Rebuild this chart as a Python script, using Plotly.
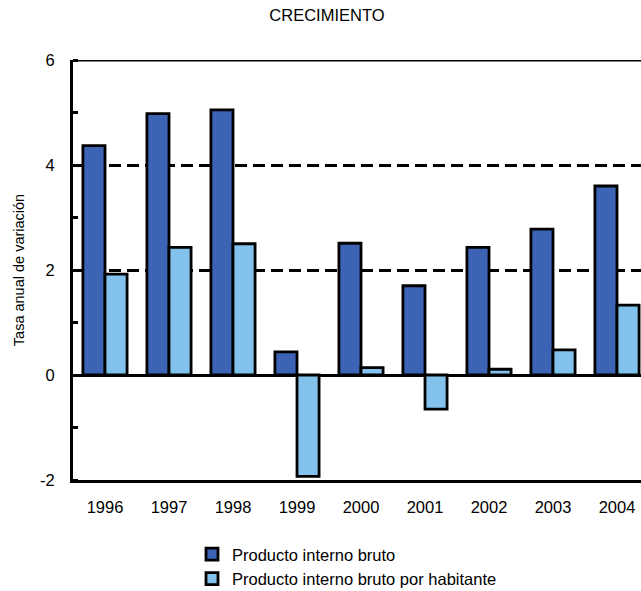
import plotly.graph_objects as go

# Annual growth rates (%)
years = ["1996", "1997", "1998", "1999", "2000", "2001", "2002", "2003", "2004"]
pib = [4.37, 4.98, 5.05, 0.44, 2.51, 1.70, 2.43, 2.78, 3.60]
pib_hab = [1.92, 2.43, 2.50, -1.93, 0.14, -0.65, 0.11, 0.48, 1.33]

y_ticks = [-2, 0, 2, 4, 6]

DARK = "#3d63b4"
LIGHT = "#82c2ec"
FONT = "Liberation Sans, Arial, sans-serif"
W, H = 641, 591
L, T, B = 73, 60, 111
PW, PH = W - L, H - T - B

fig = go.Figure()
fig.add_trace(go.Bar(
    x=years, y=pib, name="Producto interno bruto",
    marker=dict(color=DARK, line=dict(color="black", width=2.8)),
))
fig.add_trace(go.Bar(
    x=years, y=pib_hab, name="Producto interno bruto por habitante",
    marker=dict(color=LIGHT, line=dict(color="black", width=2.8)),
))

# top frame line of the plot area
fig.add_shape(type="line", xref="paper", yref="y", x0=0, x1=1, y0=6, y1=6,
              line=dict(color="black", width=3), layer="above")

fig.update_layout(
    width=W, height=H,
    margin=dict(l=L, r=0, t=T, b=B, autoexpand=False),
    paper_bgcolor="white", plot_bgcolor="white",
    barmode="group", bargap=0.31, bargroupgap=0,
    font=dict(family=FONT, color="black", size=16),
    title=dict(text="CRECIMIENTO", xref="container", yref="container",
               x=0.51, y=0.974, xanchor="center", yanchor="middle",
               font=dict(size=16.5, family=FONT, color="black")),
    showlegend=True,
    legend=dict(x=(192 - L) / PW, xanchor="left",
                y=-(537 - (T + PH)) / PH, yanchor="top",
                orientation="v", font=dict(size=16.5, family=FONT),
                bgcolor="rgba(0,0,0,0)"),
    xaxis=dict(
        type="category", range=[-0.5, 8.375],
        showline=True, linecolor="black", linewidth=3,
        ticks="", showgrid=False, zeroline=False,
        tickfont=dict(size=16.5), ticklabelstandoff=10,
    ),
    yaxis=dict(
        range=[-2, 6], tickvals=y_ticks, ticktext=[str(v) for v in y_ticks],
        showline=True, linecolor="black", linewidth=3,
        ticks="", ticklabelstandoff=12, tickfont=dict(size=16.5),
        showgrid=True, gridcolor="black", gridwidth=2.5, griddash="12px,6px",
        zeroline=True, zerolinecolor="black", zerolinewidth=2.5,
        minor=dict(dtick=1, tick0=0, ticks="inside", ticklen=5, tickwidth=2.5,
                   tickcolor="black", showgrid=False),
        title=dict(text="Tasa anual de variación", font=dict(size=14.5), standoff=12),
    ),
)

fig.write_html("out.html")
